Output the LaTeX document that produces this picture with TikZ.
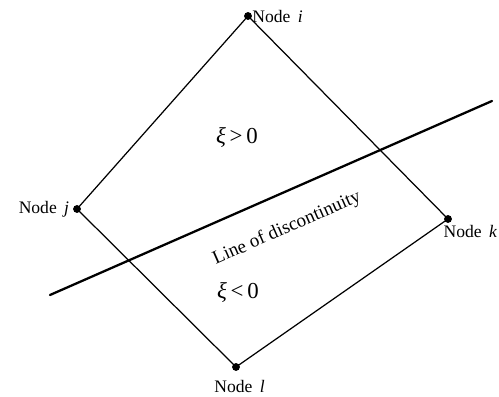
\documentclass[tikz,border=0pt]{standalone}
\usepackage{fontspec}
\setmainfont{Liberation Serif}
\usetikzlibrary{arrows,calc}
\usepackage{tkz-euclide}

\begin{document}
\begin{tikzpicture}
\useasboundingbox (0,0) rectangle (9.98,7.94);
\tkzSetUpLine[line width=.7pt,color=black]
\tkzSetUpPoint[fill=black]

\tkzDefPoints{4.96/7.62/i,1.54/3.76/j,8.96/3.56/k,4.72/0.60/l,1.00/2.04/P,9.84/5.92/Q}

\tkzDrawPolygon(i,k,l,j)
\tkzDrawSegment[line width=1.3pt](P,Q)
\tkzDrawPoints[size=4](i,j,k,l)
\tkzLabelPoint[right,xshift=-1pt](i){Node \,\textit{i}}
\tkzLabelPoint[left,xshift=-1pt](j){Node \,\textit{j}}
\tkzLabelPoint[below right,xshift=-6pt](k){Node \,\textit{k}}
\tkzLabelPoint[below=4pt,xshift=2pt](l){Node \,\textit{l}}

\node[font=\fontsize{13}{15}\selectfont] (pos) at (4.74,5.18) {\textit{ξ}\,>\,0};
\node[font=\fontsize{13}{15}\selectfont] (neg) at (4.76,2.08) {\textit{ξ}\,<\,0};
\path (P) -- (Q) node[pos=.505,sloped,below=11pt,font=\fontsize{10.8}{13}\selectfont] (disc) {Line of discontinuity};

\end{tikzpicture}
\end{document}
